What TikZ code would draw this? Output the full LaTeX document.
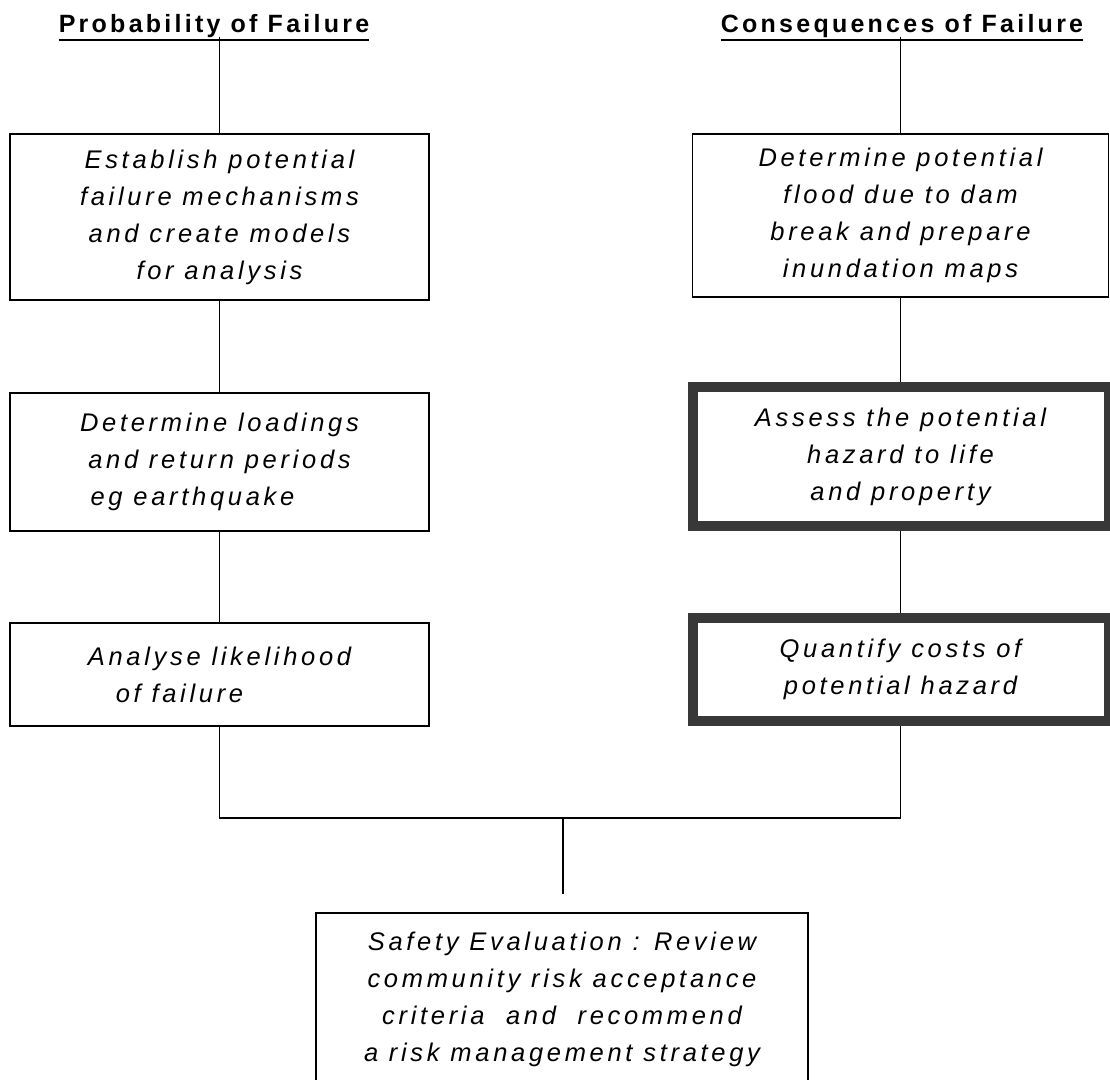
\documentclass[tikz,border=0pt]{standalone}
\usepackage{fontspec}
\setmainfont{Liberation Sans}
\newfontfamily\bodyfont[LetterSpace=14.5]{Liberation Sans}
\newfontfamily\headfont[LetterSpace=13]{Liberation Sans}
\begin{document}
\begin{tikzpicture}[x=1pt,y=-1pt,
  box/.style={draw, line width=1.6pt, rectangle, inner sep=0pt, align=center,
    font=\bodyfont\itshape\fontsize{25.5}{37}\selectfont},
  thickbox/.style={box, line width=10pt, draw=black!78},
  head/.style={inner sep=0pt, anchor=base, font=\headfont\bfseries\fontsize{25}{28}\selectfont},
  conn/.style={line width=1.3pt}]
\useasboundingbox (0,0) rectangle (1110,1079);
\clip (0,0) rectangle (1110,1079);
% titles
\node[head] (tP) at (214,32) {Probability of Failure};
\node[head] (tC) at (902,32) {Consequences of Failure};
\draw[line width=2pt] ([yshift=-7.5pt]tP.base west) -- ([yshift=-7.5pt]tP.base east);
\draw[line width=2pt] ([yshift=-7.5pt]tC.base west) -- ([yshift=-7.5pt]tC.base east);
% left column
\node[box, minimum width=419pt, minimum height=166pt] (L1) at (219.5,217)
  {Establish potential\\failure mechanisms\\and create models\\for analysis};
\node[box, minimum width=419pt, minimum height=138pt] (L2) at (219.5,462)
  {Determine loadings\\and return periods\\\hspace*{-54pt}eg earthquake};
\node[box, minimum width=419pt, minimum height=103pt] (L3) at (219.5,674.5)
  {Analyse likelihood\\\hspace*{-80pt}of failure};
% right column
\node[box, minimum width=416pt, minimum height=163pt] (R1) at (900.5,215.5)
  {Determine potential\\flood due to dam\\break and prepare\\inundation maps};
\node[thickbox, minimum width=416pt, minimum height=139pt] (R2) at (900.5,456.5)
  {Assess the potential\\hazard to life\\and property};
\node[thickbox, minimum width=416pt, minimum height=103pt] (R3) at (900.5,669.5)
  {Quantify costs of\\potential hazard};
% bottom
\node[box, minimum width=492pt, minimum height=172pt] (B) at (562,999)
  {Safety Evaluation : Review\\community risk acceptance\\criteria\ \ and\ \ recommend\\a risk management strategy};
% connectors
\draw[conn] (L1.north |- tP.south) -- (L1.north);
\draw[conn] (L1.south) -- (L2.north);
\draw[conn] (L2.south) -- (L3.north);
\draw[conn] (R1.north |- tC.south) -- (R1.north);
\draw[conn] (R1.south) -- (R2.north);
\draw[conn] (R2.south) -- (R3.north);
\coordinate (join) at (563,818);
\draw[conn] (L3.south) |- (join) -| (R3.south);
\draw[conn, shorten >=18pt] (join) -- (join |- B.north);
\end{tikzpicture}
\end{document}
